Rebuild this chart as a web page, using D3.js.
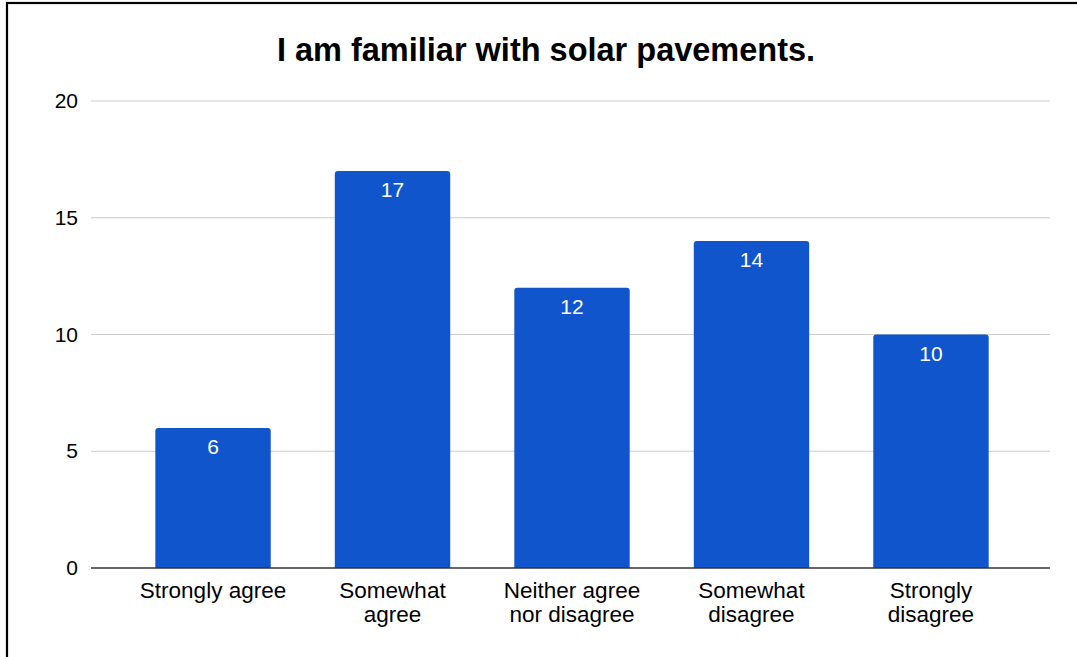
<!DOCTYPE html>
<html>
<head>
<meta charset="utf-8">
<script src="https://cdn.jsdelivr.net/npm/d3@7"></script>
<style>
  html, body { margin: 0; padding: 0; background: #fff; }
  svg { display: block; font-family: "Liberation Sans", Arial, Helvetica, sans-serif; }
</style>
</head>
<body>
<svg id="chart" width="1077" height="657"></svg>
<script>
// Survey responses
const categories = [
  ["Strongly agree"],
  ["Somewhat", "agree"],
  ["Neither agree", "nor disagree"],
  ["Somewhat", "disagree"],
  ["Strongly", "disagree"]
];
const counts = [6, 17, 12, 14, 10];
const yTicks = [0, 5, 10, 15, 20];
const title = "I am familiar with solar pavements.";

const svg = d3.select("#chart");
const W = 1077, H = 657;
const plot = { left: 91, right: 1050, top: 101, bottom: 568 };
const barColor = "#1155cc";

// Frame around the chart card
svg.append("rect")
  .attr("x", 7).attr("y", 3)
  .attr("width", W + 20).attr("height", H + 20)
  .attr("fill", "#fff")
  .attr("stroke", "#000").attr("stroke-width", 2.2);

const keys = categories.map(c => c.join(" "));

const x = d3.scaleBand()
  .domain(keys)
  .range([plot.left + 1.5, plot.right + 1.5])
  .paddingInner(0.357)
  .paddingOuter(0.35);

const y = d3.scaleLinear()
  .domain([0, 20])
  .range([plot.bottom, plot.top]);

// Title
svg.append("text")
  .attr("x", 546).attr("y", 61)
  .attr("text-anchor", "middle")
  .attr("font-size", 32.5)
  .attr("font-weight", "bold")
  .attr("fill", "#000")
  .text(title);

// Y axis labels
const yAxis = d3.axisLeft(y).tickValues(yTicks).tickSize(0).tickPadding(13);
const gy = svg.append("g").attr("transform", `translate(${plot.left},0)`).call(yAxis);
gy.select(".domain").remove();
gy.selectAll("text").attr("font-size", 21).attr("fill", "#000")
  .attr("font-family", "Liberation Sans, Arial, sans-serif");

// Gridlines
svg.append("g").selectAll("line")
  .data(yTicks.filter(t => t !== 0))
  .join("line")
  .attr("x1", plot.left).attr("x2", plot.right)
  .attr("y1", d => y(d)).attr("y2", d => y(d))
  .attr("stroke", "#cccccc").attr("stroke-width", 1.2);

// Bars with lightly rounded tops
const r = 3;
function barPath(d, i) {
  const x0 = x(keys[i]), w = x.bandwidth();
  const top = y(d), bot = y(0);
  return `M${x0},${bot} V${top + r} Q${x0},${top} ${x0 + r},${top} H${x0 + w - r} Q${x0 + w},${top} ${x0 + w},${top + r} V${bot} Z`;
}
svg.append("g").selectAll("path")
  .data(counts)
  .join("path")
  .attr("d", barPath)
  .attr("fill", barColor);

// Value labels inside bars
svg.append("g").selectAll("text")
  .data(counts)
  .join("text")
  .attr("x", (d, i) => x(keys[i]) + x.bandwidth() / 2)
  .attr("y", d => y(d) + 26)
  .attr("text-anchor", "middle")
  .attr("font-size", 21)
  .attr("fill", "#fff")
  .text(d => d);

// Baseline
svg.append("line")
  .attr("x1", plot.left).attr("x2", plot.right)
  .attr("y1", y(0)).attr("y2", y(0))
  .attr("stroke", "#333").attr("stroke-width", 1.4);

// Category labels
const xl = svg.append("g").selectAll("text")
  .data(categories)
  .join("text")
  .attr("x", (d, i) => x(keys[i]) + x.bandwidth() / 2)
  .attr("y", 598)
  .attr("text-anchor", "middle")
  .attr("font-size", 22.5)
  .attr("fill", "#000");
xl.selectAll("tspan")
  .data(d => d)
  .join("tspan")
  .attr("x", function() { return d3.select(this.parentNode).attr("x"); })
  .attr("dy", (d, j) => j === 0 ? 0 : 24)
  .text(d => d);
</script>
</body>
</html>
